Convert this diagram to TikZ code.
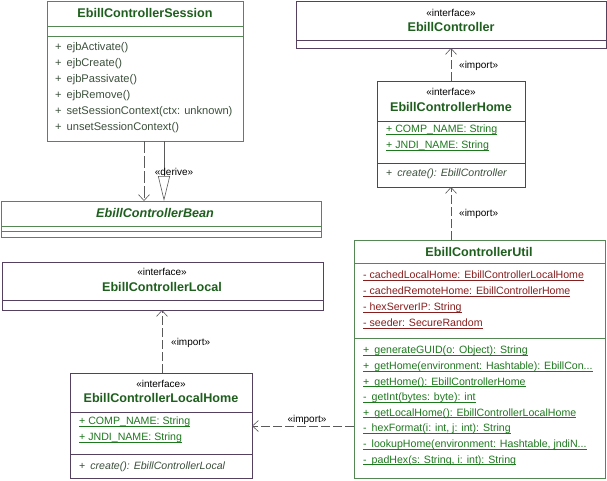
\documentclass[tikz,border=0pt]{standalone}
\usepackage{fontspec}
\setmainfont{Liberation Sans}
\usetikzlibrary{arrows.meta}

\definecolor{namegreen}{RGB}{30,95,30}
\definecolor{pubgreen}{RGB}{30,120,30}
\definecolor{privred}{RGB}{135,30,30}
\definecolor{optext}{RGB}{60,80,60}
\definecolor{boxgreen}{RGB}{85,135,85}
\definecolor{boxpurple}{RGB}{85,65,95}
\definecolor{linegray}{RGB}{90,90,90}

\newcommand{\ulmember}[1]{\underline{\smash{#1}}}

\tikzset{
  greenbox/.style={draw=boxgreen, line width=0.7pt, fill=white, anchor=north west, inner sep=0pt, outer sep=0pt},
  purplebox/.style={draw=boxpurple, line width=0.7pt, fill=white, anchor=north west, inner sep=0pt, outer sep=0pt},
  cname/.style={font=\fontsize{12.6}{14}\selectfont\bfseries, text=namegreen, inner sep=0pt},
  stereo/.style={font=\fontsize{10}{12}\selectfont, inner sep=0pt},
  member/.style={font=\fontsize{10.6}{12}\selectfont, anchor=west, inner sep=0pt, text=optext},
  ulrow/.style={member, yshift=-1.8pt},
  lbl/.style={font=\fontsize{10}{12}\selectfont, inner sep=0pt},
  importline/.style={draw=linegray, line width=0.6pt, dash pattern=on 9pt off 3pt,
    -{Straight Barb[length=6pt,width=11pt]}}
}

\begin{document}
\begin{tikzpicture}[x=1pt,y=-1pt]
  \fill[white] (0,0) rectangle (607,480);
  \useasboundingbox (0,0) rectangle (607,480);

  % session bean
  \node[greenbox, minimum width=196pt, minimum height=140pt] (session) at (47,1) {};
  \node[cname] (session-name) at (145,13) {EbillControllerSession};
  \draw[boxgreen, line width=0.7pt] (session.west |- 0,26) -- (session.east |- 0,26);
  \draw[boxgreen, line width=0.7pt] (session.west |- 0,36) -- (session.east |- 0,36);
  \foreach \op [count=\i] in {{ejbActivate()},{ejbCreate()},{ejbPassivate()},{ejbRemove()},
      {setSessionContext(ctx: unknown)},{unsetSessionContext()}}
    \node[member, font=\fontsize{11.1}{13}\selectfont] (sop\i) at (55,32+16*\i) {+\hspace{5pt}\op};

  \node[greenbox, minimum width=320pt, minimum height=36pt] (bean) at (1,201) {};
  \node[cname, font=\fontsize{12.6}{14}\selectfont\bfseries\itshape] (bean-name) at (155,213) {EbillControllerBean};
  \draw[boxgreen, line width=0.7pt] (bean.west |- 0,226) -- (bean.east |- 0,226);
  \draw[boxgreen, line width=0.7pt] (bean.west |- 0,231) -- (bean.east |- 0,231);

  \draw[linegray, line width=0.6pt, dash pattern=on 12pt off 3pt, -{Straight Barb[length=6pt,width=11pt]}]
    ([xshift=-1pt]session.south) -- ([xshift=-1pt]session.south |- bean.north);
  \draw[linegray, line width=0.6pt, -{Triangle[open,length=25pt,width=12pt]}]
    ([xshift=19pt]session.south) -- ([xshift=19pt]session.south |- bean.north);
  \node[lbl] (derive) at (174,172) {«derive»};

  % remote interfaces
  \node[purplebox, minimum width=310pt, minimum height=47pt] (ctrl) at (296,1) {};
  \node[stereo] (ctrl-st) at (451,13) {«interface»};
  \node[cname] (ctrl-name) at (451,27) {EbillController};
  \draw[boxpurple, line width=0.7pt] (ctrl.west |- 0,40) -- (ctrl.east |- 0,40);

  \node[purplebox, minimum width=148pt, minimum height=106pt] (home) at (377,81) {};
  \node[stereo] (home-st) at (451,92) {«interface»};
  \node[cname] (home-name) at (451,107) {EbillControllerHome};
  \draw[boxpurple, line width=0.7pt] (home.west |- 0,121) -- (home.east |- 0,121);
  \node[ulrow, text=pubgreen] (hattr1) at (386,132) {\ulmember{+ COMP\_NAME: String}};
  \node[ulrow, text=pubgreen] (hattr2) at (386,148) {\ulmember{+ JNDI\_NAME: String}};
  \draw[boxpurple, line width=0.7pt] (home.west |- 0,163) -- (home.east |- 0,163);
  \node[member] (hop1) at (386,174) {+\hspace{5pt}\textit{create(): EbillController}};

  \draw[importline] (home.north -| ctrl-name) -- (ctrl.south -| ctrl-name);
  \node[lbl, anchor=west] (imp1) at (459,66) {«import»};

  % util class
  \node[greenbox, minimum width=251pt, minimum height=238pt] (util) at (354,240) {};
  \node[cname] (util-name) at (479,252) {EbillControllerUtil};
  \draw[boxgreen, line width=0.7pt] (util.west |- 0,263) -- (util.east |- 0,263);
  \foreach \at [count=\i] in {{cachedLocalHome: EbillControllerLocalHome},{cachedRemoteHome: EbillControllerHome},
      {hexServerIP: String},{seeder: SecureRandom}}
    \node[ulrow, text=privred] (uattr\i) at (363,262+16*\i) {\ulmember{- \at}};
  \draw[boxgreen, line width=0.7pt] (util.west |- 0,338) -- (util.east |- 0,338);
  \foreach \vis/\op [count=\i] in {+/{generateGUID(o: Object): String},+/{getHome(environment: Hashtable): EbillCon...},
      +/{getHome(): EbillControllerHome},-/{getInt(bytes: byte): int},+/{getLocalHome(): EbillControllerLocalHome},
      -/{hexFormat(i: int, j: int): String},-/{lookupHome(environment: Hashtable, jndiN...},-/{padHex(s: String, i: int): String}}
  {
    \ifx\vis-\def\opcol{privred}\else\def\opcol{pubgreen}\fi
    \node[ulrow, text=\opcol] (uop\i) at (363,337.4+15.6*\i) {\ulmember{\vis\hspace{5pt}\op}};
  }

  \draw[importline] (util.north -| home-name) -- (home.south -| home-name);
  \node[lbl, anchor=west] (imp2) at (459,214) {«import»};

  % local interfaces
  \node[purplebox, minimum width=321pt, minimum height=48pt] (local) at (2,262) {};
  \node[stereo] (local-st) at (162,272) {«interface»};
  \node[cname] (local-name) at (162,287) {EbillControllerLocal};
  \draw[boxpurple, line width=0.7pt] (local.west |- 0,300) -- (local.east |- 0,300);

  \node[purplebox, minimum width=182pt, minimum height=105pt] (lhome) at (70,373) {};
  \node[stereo] (lhome-st) at (161,384) {«interface»};
  \node[cname] (lhome-name) at (161,398) {EbillControllerLocalHome};
  \draw[boxpurple, line width=0.7pt] (lhome.west |- 0,412) -- (lhome.east |- 0,412);
  \node[ulrow, text=pubgreen] (lattr1) at (79,424) {\ulmember{+ COMP\_NAME: String}};
  \node[ulrow, text=pubgreen] (lattr2) at (79,440) {\ulmember{+ JNDI\_NAME: String}};
  \draw[boxpurple, line width=0.7pt] (lhome.west |- 0,454) -- (lhome.east |- 0,454);
  \node[member] (lop1) at (79,467) {+\hspace{5pt}\textit{create(): EbillControllerLocal}};

  \draw[importline] (lhome.north -| local-name) -- (local.south -| local-name);
  \node[lbl, anchor=west] (imp3) at (171,343) {«import»};

  \draw[importline] (util.west |- 0,426) -- (lhome.east |- 0,426);
  \node[lbl] (imp4) at (307,420) {«import»};
\end{tikzpicture}
\end{document}
